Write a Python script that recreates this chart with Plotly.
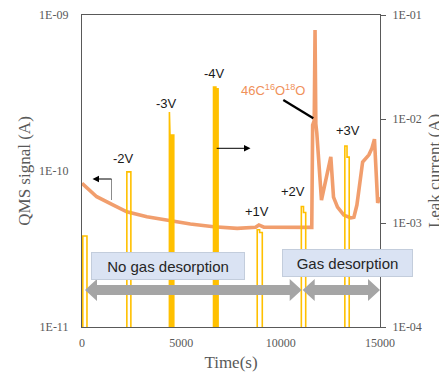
import plotly.graph_objects as go

# ---------------- data ----------------
qms_time = [0, 742, 1580, 2257, 3267, 4444, 5454, 6630, 7812, 8737, 8904, 9156, 10000,
            11565, 11610, 11690, 11730, 11770, 11820, 12054, 12524, 12660, 12862, 13180,
            13534, 13686, 13837, 14125, 14443, 14595, 14721, 14883, 15000]
qms_signal = [8.34e-11, 6.84e-11, 6.05e-11, 5.48e-11, 5.09e-11, 4.78e-11, 4.57e-11, 4.39e-11,
              4.29e-11, 4.36e-11, 4.51e-11, 4.36e-11, 4.36e-11,
              4.35e-11, 1.97e-10, 2.1e-10, 8.0e-10, 2.0e-10, 1.75e-10, 6.5e-11, 1.23e-10,
              6.8e-11, 5.87e-11, 5.22e-11, 5.0e-11, 5.05e-11, 6.05e-11, 1.14e-10, 1.27e-10,
              1.40e-10, 1.60e-10, 6.24e-11, 6.8e-11]

pulse_labels = ["0V", "-2V", "-3V", "-4V", "+1V", "+2V", "+3V"]
pulse_start = [40, 2257, 4400, 6620, 8820, 11040, 13230]
pulse_mid = [150, 2360, 4430, 6740, 8940, 11150, 13340]
pulse_end = [250, 2460, 4620, 6850, 9075, 11260, 13450]
pulse_peak = [7.5e-4, 3.1e-3, 1.17e-2, 2.03e-2, 8.6e-4, 1.44e-3, 5.5e-3]
pulse_hold = [7.5e-4, 3.1e-3, 7.0e-3, 1.95e-2, 8.1e-4, 1.26e-3, 4.3e-3]
pulse_filled = [False, False, True, True, False, False, False]
base_current = 1e-5

x_ticks = [0, 5000, 10000, 15000]
y_left_ticks = [1e-11, 1e-10, 1e-9]
y_left_text = ["1E-11", "1E-10", "1E-09"]
y_right_ticks = [1e-4, 1e-3, 1e-2, 1e-1]
y_right_text = ["1E-04", "1E-03", "1E-02", "1E-01"]

# ---------------- geometry helpers ----------------
# the page body has an 8px default margin, so the figure is placed at (8, 8)
OFF = 8
L, R, T, B = 82, 380, 15, 327          # plot area in window pixels
W, H = 447 - OFF, 372 - OFF


def px(x):
    return (x - L) / (R - L)


def py(y):
    return (B - y) / (B - T)


ORANGE = "#f0915a"
YELLOW = "#ffc000"
GRAY_TXT = "#595959"
SERIF = "Liberation Serif, Times New Roman, serif"
SANS = "Liberation Sans, Arial, sans-serif"

fig = go.Figure()

# leak current pulses (right axis)
for s, m, e, pk, hd, filled in zip(pulse_start, pulse_mid, pulse_end, pulse_peak, pulse_hold, pulse_filled):
    xs = [s, s, m, m, e, e]
    ys = [base_current, pk, pk, hd, hd, base_current]
    fig.add_trace(go.Scatter(
        x=xs, y=ys, yaxis="y2", mode="lines",
        line=dict(color=YELLOW, width=1.6),
        fill="toself" if filled else None,
        fillcolor=YELLOW if filled else None,
        hoverinfo="skip", showlegend=False))

# QMS signal (left axis)
fig.add_trace(go.Scatter(
    x=qms_time, y=qms_signal, mode="lines",
    line=dict(color=ORANGE, width=3.6),
    opacity=0.88, showlegend=False))

axis_common = dict(showgrid=False, zeroline=False, linecolor="#595959", linewidth=1.3,
                   automargin=False,
                   tickfont=dict(family=SERIF, size=12, color=GRAY_TXT))

fig.update_layout(
    width=W, height=H,
    margin=dict(l=L - OFF, r=447 - R, t=T - OFF, b=372 - B),
    paper_bgcolor="white", plot_bgcolor="white",
    showlegend=False,
    xaxis=dict(range=[0, 15000], tickvals=x_ticks, ticktext=[str(v) for v in x_ticks],
               showline=True, mirror=True, ticks="", ticklabelstandoff=4,
               title=dict(text="Time(s)", font=dict(family=SERIF, size=17, color=GRAY_TXT), standoff=8),
               **axis_common),
    yaxis=dict(type="log", range=[-11, -9], tickvals=y_left_ticks, ticktext=y_left_text,
               showline=True, ticks="", ticklabelstandoff=10,
               title=dict(text="QMS signal (A)", font=dict(family=SERIF, size=17, color=GRAY_TXT), standoff=4),
               **axis_common),
    yaxis2=dict(type="log", range=[-4, -1], tickvals=y_right_ticks, ticktext=y_right_text,
                overlaying="y", side="right", showline=True,
                ticks="outside", ticklen=5, tickcolor="#595959", ticklabelstandoff=4,
                title=dict(text="Leak current (A)", font=dict(family=SERIF, size=17, color=GRAY_TXT), standoff=7),
                **axis_common),
)


def double_arrow(x1, x2, yc, shaft=5, head=11, hl=12):
    pts = [(x1, yc), (x1 + hl, yc - head), (x1 + hl, yc - shaft), (x2 - hl, yc - shaft),
           (x2 - hl, yc - head), (x2, yc), (x2 - hl, yc + head), (x2 - hl, yc + shaft),
           (x1 + hl, yc + shaft), (x1 + hl, yc + head)]
    return "M " + " L ".join(f"{px(a):.5f},{py(b):.5f}" for a, b in pts) + " Z"


def tri(pts):
    return "M " + " L ".join(f"{px(a):.5f},{py(b):.5f}" for a, b in pts) + " Z"


shapes = [
    dict(type="path", xref="paper", yref="paper", path=double_arrow(85, 301.7, 290),
         fillcolor="#a5a5a5", line=dict(width=0)),
    dict(type="path", xref="paper", yref="paper", path=double_arrow(302.7, 380, 290),
         fillcolor="#a5a5a5", line=dict(width=0)),
    dict(type="line", xref="paper", yref="paper", x0=px(283.3), y0=py(100), x1=px(313.3), y1=py(118.3),
         line=dict(color="black", width=2.2)),
    # left-pointing arrow to the QMS axis
    dict(type="line", xref="paper", yref="paper", x0=px(111.5), y0=py(179), x1=px(111.5), y1=py(200),
         line=dict(color="#8c8c8c", width=1)),
    dict(type="line", xref="paper", yref="paper", x0=px(98), y0=py(179), x1=px(111.5), y1=py(179),
         line=dict(color="black", width=1)),
    dict(type="path", xref="paper", yref="paper", path=tri([(92.5, 179), (99, 175.8), (99, 182.2)]),
         fillcolor="black", line=dict(width=0)),
    # right-pointing arrow to the leak-current axis
    dict(type="line", xref="paper", yref="paper", x0=px(216.7), y0=py(148.3), x1=px(245), y1=py(148.3),
         line=dict(color="black", width=1)),
    dict(type="path", xref="paper", yref="paper", path=tri([(250.5, 148.3), (244, 145.1), (244, 151.5)]),
         fillcolor="black", line=dict(width=0)),
]
fig.update_layout(shapes=shapes)

ann = []
labels_pos = {"-2V": (123.5, 158), "-3V": (166, 103), "-4V": (214.3, 73.5),
              "+1V": (256.7, 211.7), "+2V": (292.7, 191.7), "+3V": (348.3, 130)}
for lab, (x, y) in labels_pos.items():
    ann.append(dict(x=px(x), y=py(y), xref="paper", yref="paper", text=lab, showarrow=False,
                    xanchor="center", yanchor="middle", font=dict(family=SANS, size=13, color="#1a1a1a")))

ann.append(dict(x=px(239), y=py(90), xref="paper", yref="paper",
                text="46C<sup>16</sup>O<sup>18</sup>O", showarrow=False,
                xanchor="left", yanchor="middle", font=dict(family=SANS, size=13, color="#f0915a")))

ann.append(dict(x=px(168.3), y=py(266.3), xref="paper", yref="paper", text="No gas desorption",
                showarrow=False, xanchor="center", yanchor="middle", width=150, height=24,
                bgcolor="#dae3f3", bordercolor="#c3cddc", borderwidth=1,
                font=dict(family=SANS, size=15, color="#262626")))
ann.append(dict(x=px(347), y=py(262.7), xref="paper", yref="paper", text="Gas desorption",
                showarrow=False, xanchor="center", yanchor="middle", width=127, height=24,
                bgcolor="#dae3f3", bordercolor="#c3cddc", borderwidth=1,
                font=dict(family=SANS, size=15, color="#262626")))

fig.update_layout(annotations=ann)

fig.write_html("out.html")
